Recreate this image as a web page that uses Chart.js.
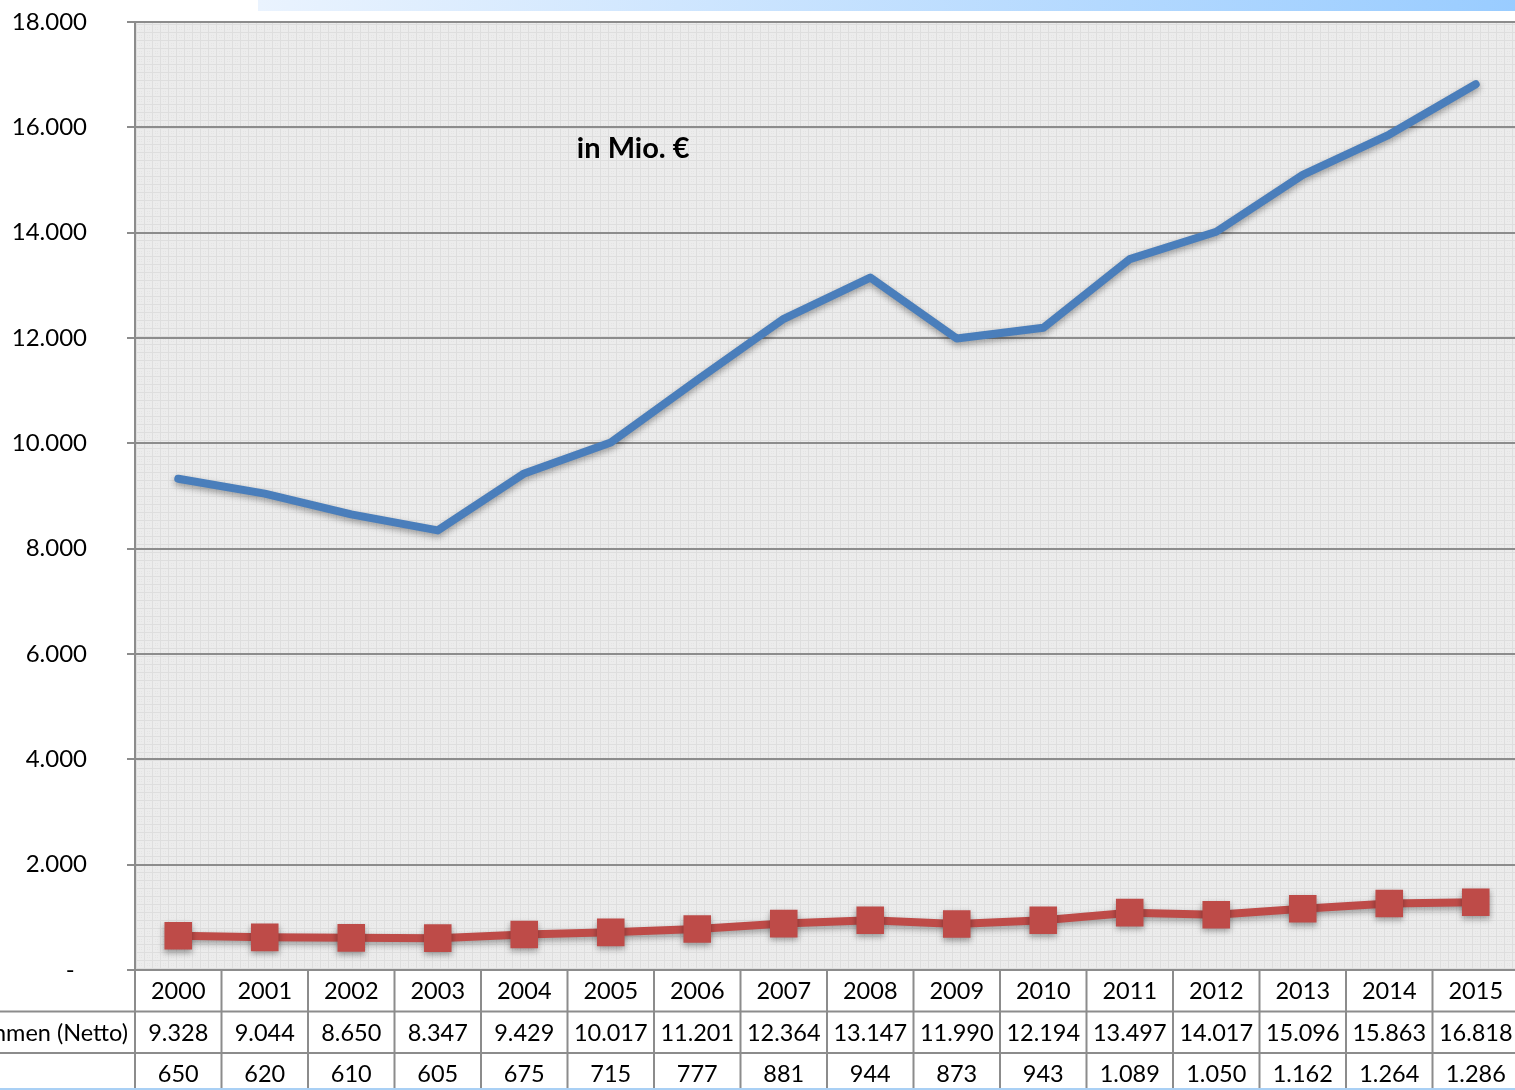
<!DOCTYPE html>
<html>
<head>
<meta charset="utf-8">
<script src="https://cdn.jsdelivr.net/npm/chart.js@4/dist/chart.umd.min.js"></script>
<style>
  html, body { margin: 0; padding: 0; background: #fff; overflow: hidden; }
  #wrap { position: relative; width: 1519px; height: 1090px; }
  #topbar { position: absolute; left: 258px; top: 0; width: 1261px; height: 11px;
            background: linear-gradient(to right, #eaf3fe, #99ccff); }
  #bottomline { position: absolute; left: 0; top: 1088px; width: 1519px; height: 2px; background: #a9d0f5; }
</style>
</head>
<body>
<div id="wrap">
  <canvas id="myChart" width="1519" height="1090"></canvas>
  <div id="topbar"></div>
  <div id="bottomline"></div>
</div>
<script>
"use strict"

// DATA
const years = ['2000', '2001', '2002', '2003', '2004', '2005', '2006', '2007',
               '2008', '2009', '2010', '2011', '2012', '2013', '2014', '2015'];
const nettoLabel = 'Steuereinnahmen (Netto)';
const nettoValues = [9328, 9044, 8650, 8347, 9429, 10017, 11201, 12364,
                     13147, 11990, 12194, 13497, 14017, 15096, 15863, 16818];
const secondLabel = '';
const secondValues = [650, 620, 610, 605, 675, 715, 777, 881,
                      944, 873, 943, 1089, 1050, 1162, 1264, 1286];
const noteText = 'in Mio. €';
const notePos = { x: 5.26, y: 15590 };

const FONT = 'Lato, "Open Sans", sans-serif';

// german thousands format
function fmt(v) {
    return v.toLocaleString('de-DE');
}

// background pattern of the plot area
function makePattern(ctx) {
    const c = document.createElement('canvas');
    c.width = 8; c.height = 8;
    const p = c.getContext('2d');
    p.fillStyle = '#ececec';
    p.fillRect(0, 0, 8, 8);
    p.fillStyle = '#dedede';
    p.fillRect(0, 0, 8, 1);
    p.fillRect(0, 0, 1, 8);
    p.fillStyle = '#e4e4e4';
    p.fillRect(3, 3, 1, 1);
    p.fillRect(5, 5, 1, 1);
    p.fillRect(3, 5, 1, 1);
    p.fillRect(5, 3, 1, 1);
    return ctx.createPattern(c, 'repeat');
}

const bgPlugin = {
    id: 'bgPattern',
    beforeDraw(chart) {
        const { ctx, chartArea: a } = chart;
        ctx.save();
        ctx.fillStyle = makePattern(ctx);
        ctx.fillRect(a.left, a.top, a.right - a.left, a.bottom - a.top);
        ctx.restore();
    }
};

// soft shadow under the lines
const shadowPlugin = {
    id: 'lineShadow',
    beforeDatasetDraw(chart) {
        const ctx = chart.ctx;
        ctx.save();
        ctx.shadowColor = 'rgba(0,0,0,0.35)';
        ctx.shadowBlur = 6;
        ctx.shadowOffsetY = 3;
    },
    afterDatasetDraw(chart) {
        chart.ctx.restore();
    }
};

// data table under the chart + note text
const tablePlugin = {
    id: 'dataTable',
    afterDraw(chart) {
        const { ctx, chartArea: a, scales: { x, y } } = chart;
        const step = x.getPixelForValue(1) - x.getPixelForValue(0);
        const rowH = 41.5;
        const top = a.bottom;
        ctx.save();

        // grid of the table
        ctx.strokeStyle = '#8c8c8c';
        ctx.lineWidth = 2;
        ctx.beginPath();
        for (let i = 0; i < years.length; i++) {
            const xr = x.getPixelForValue(i) + step / 2;
            ctx.moveTo(xr, top);
            ctx.lineTo(xr, top + rowH * 3);
        }
        ctx.moveTo(a.left, top);
        ctx.lineTo(a.left, top + rowH * 3);
        ctx.moveTo(0, top + rowH);
        ctx.lineTo(a.right, top + rowH);
        ctx.moveTo(0, top + rowH * 2);
        ctx.lineTo(a.right, top + rowH * 2);
        ctx.stroke();

        // texts
        ctx.fillStyle = '#000';
        ctx.font = '23.5px ' + FONT;
        ctx.textBaseline = 'middle';
        ctx.textAlign = 'center';
        const rows = [years, nettoValues.map(fmt), secondValues.map(fmt)];
        rows.forEach((row, r) => {
            const cy = top + rowH * r + rowH / 2 + 1;
            row.forEach((t, i) => ctx.fillText(t, x.getPixelForValue(i), cy));
        });
        ctx.textAlign = 'right';
        ctx.fillText(nettoLabel, a.left - 7, top + rowH * 1.5 + 1);
        ctx.fillText(secondLabel, a.left - 7, top + rowH * 2.5 + 1);

        // note
        ctx.font = 'bold 29px ' + FONT;
        ctx.textAlign = 'center';
        ctx.fillText(noteText, x.getPixelForValue(notePos.x), y.getPixelForValue(notePos.y));
        ctx.restore();
    }
};

const data = {
    labels: years,
    datasets: [{
        label: nettoLabel,
        data: nettoValues,
        borderColor: '#4a7ebb',
        backgroundColor: '#4a7ebb',
        borderWidth: 8,
        borderCapStyle: 'round',
        borderJoinStyle: 'round',
        pointRadius: 0,
        pointHoverRadius: 0,
        fill: false,
        tension: 0
    }, {
        label: secondLabel,
        data: secondValues,
        borderColor: '#be4b48',
        backgroundColor: '#be4b48',
        borderWidth: 8,
        pointStyle: 'rect',
        pointRadius: 19.5,
        pointBorderWidth: 0,
        pointBorderColor: '#be4b48',
        pointBackgroundColor: '#be4b48',
        fill: false,
        tension: 0
    }]
};

const config = {
    type: 'line',
    data: data,
    options: {
        responsive: false,
        animation: false,
        layout: { autoPadding: false, padding: { top: 22, bottom: 120, left: 0, right: 0 } },
        plugins: {
            legend: { display: false },
            tooltip: { enabled: false }
        },
        scales: {
            x: {
                display: false,
                offset: true
            },
            y: {
                min: 0,
                max: 18000,
                ticks: {
                    stepSize: 2000,
                    color: '#000',
                    padding: 40,
                    font: { family: FONT, size: 24 },
                    callback: (v) => v === 0 ? '-  ' : fmt(v)
                },
                grid: {
                    color: '#8c8c8c',
                    lineWidth: 2,
                    tickLength: 8
                },
                border: { color: '#8c8c8c', width: 2 },
                afterFit: (scale) => {
                    scale.width = 135;
                    scale.paddingTop = 15;
                    scale.paddingBottom = 15;
                }
            }
        }
    },
    plugins: [bgPlugin, shadowPlugin, tablePlugin]
};

const myChart = new Chart(document.getElementById('myChart'), config);
</script>
</body>
</html>
